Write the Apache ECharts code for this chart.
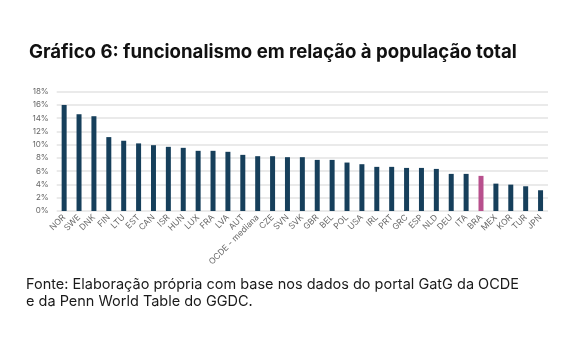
<!DOCTYPE html>
<html>
<head>
<meta charset="utf-8">
<script src="https://cdn.jsdelivr.net/npm/echarts@6/dist/echarts.min.js"></script>
<style>
  html, body { margin: 0; padding: 0; background: #ffffff; }
  #chart { width: 565px; height: 342px; }
</style>
</head>
<body>
<div id="chart"></div>
<script>
// Public-sector employment as a share of total population, by country (%)
const countries = ['NOR', 'SWE', 'DNK', 'FIN', 'LTU', 'EST', 'CAN', 'ISR', 'HUN', 'LUX', 'FRA', 'LVA', 'AUT',
  'OCDE - mediana', 'CZE', 'SVN', 'SVK', 'GBR', 'BEL', 'POL', 'USA', 'IRL', 'PRT', 'GRC', 'ESP', 'NLD',
  'DEU', 'ITA', 'BRA', 'MEX', 'KOR', 'TUR', 'JPN'];
const shares = [16.0, 14.6, 14.3, 11.15, 10.6, 10.2, 9.93, 9.68, 9.53, 9.08, 9.08, 8.93, 8.47,
  8.27, 8.27, 8.12, 8.12, 7.71, 7.71, 7.31, 7.06, 6.66, 6.66, 6.5, 6.5, 6.35,
  5.6, 5.6, 5.3, 4.13, 3.98, 3.73, 3.13];
const highlighted = 'BRA';
const yTicks = { min: 0, max: 18, step: 2 };

const titleText = 'Gráfico 6: funcionalismo em relação à população total';
const sourceLines = [
  'Fonte: Elaboração própria com base nos dados do portal GatG da OCDE',
  'e da Penn World Table do GGDC.'
];

const barColor = '#163f5b';
const highlightColor = '#b8508d';

const chart = echarts.init(document.getElementById('chart'), null, { renderer: 'canvas' });

chart.setOption({
  backgroundColor: '#ffffff',
  animation: false,
  title: {
    text: titleText,
    left: 24,
    top: 38,
    textStyle: {
      fontFamily: 'Inter',
      fontWeight: 700,
      fontSize: 18.6,
      color: '#111111'
    }
  },
  graphic: sourceLines.map((line, i) => ({
    type: 'text',
    left: 26,
    top: 277 + i * 17,
    style: {
      text: line,
      font: '400 14.5px Inter',
      fill: '#1a1a1a'
    }
  })),
  grid: {
    left: 56.7,
    right: 17,
    top: 91.7,
    bottom: 131,
    containLabel: false
  },
  xAxis: {
    type: 'category',
    data: countries,
    axisLine: { show: false },
    axisTick: { show: false },
    axisLabel: {
      interval: 0,
      rotate: 45,
      margin: 5,
      fontFamily: 'Inter',
      fontSize: 8.5,
      color: '#666666'
    }
  },
  yAxis: {
    type: 'value',
    min: yTicks.min,
    max: yTicks.max,
    interval: yTicks.step,
    axisLine: { show: false },
    axisTick: { show: false },
    splitLine: { lineStyle: { color: '#e3e3e3', width: 1.5 } },
    axisLabel: {
      formatter: '{value}%',
      margin: 8,
      fontFamily: 'Inter',
      fontSize: 8,
      color: '#666666'
    }
  },
  series: [{
    type: 'bar',
    barWidth: 5,
    data: shares.map((v, i) => ({
      value: v,
      itemStyle: { color: countries[i] === highlighted ? highlightColor : barColor }
    }))
  }]
});
</script>
</body>
</html>
